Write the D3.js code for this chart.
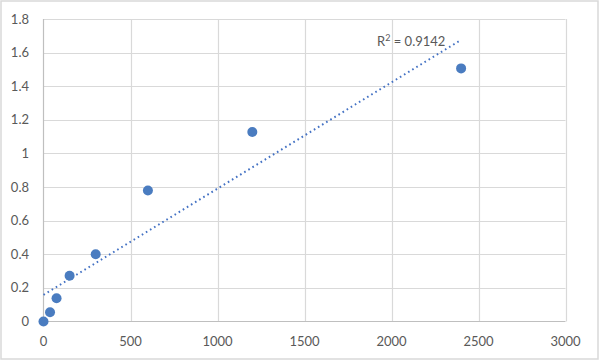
<!DOCTYPE html>
<html><head><meta charset="utf-8">
<script src="https://cdn.jsdelivr.net/npm/d3@7"></script>
<style>body{margin:0;background:#fff}svg{display:block}</style>
</head><body>
<script>
const xValues = [0, 37.5, 75, 150, 300, 600, 1200, 2400];
const yValues = [0, 0.055, 0.138, 0.272, 0.40, 0.78, 1.128, 1.506];
const xTicks = [0, 500, 1000, 1500, 2000, 2500, 3000];
const yTicks = [0, 0.2, 0.4, 0.6, 0.8, 1, 1.2, 1.4, 1.6, 1.8];
const r2Label = "0.9142";

const W = 600, H = 361;
const svg = d3.select("body").append("svg").attr("width", W).attr("height", H);
svg.append("rect").attr("x", 1).attr("y", 1).attr("width", W - 3).attr("height", H - 3)
  .attr("fill", "#fff").attr("stroke", "#d9d9d9").attr("stroke-width", 1.5);

const x = d3.scaleLinear().domain([0, 3000]).range([43.5, 565.5]);
const y = d3.scaleLinear().domain([0, 1.8]).range([321.5, 19]);
const font = "Lato, 'Open Sans', sans-serif";

// gridlines
svg.append("g").selectAll("line").data(yTicks.slice(1)).join("line")
  .attr("x1", x(0)).attr("x2", x(3000)).attr("y1", d => Math.round(y(d)) + 0.5).attr("y2", d => Math.round(y(d)) + 0.5)
  .attr("stroke", "#d9d9d9").attr("stroke-width", 1.2);
svg.append("g").selectAll("line").data(xTicks.slice(1)).join("line")
  .attr("y1", y(0)).attr("y2", y(1.8)).attr("x1", d => Math.round(x(d)) + 0.5).attr("x2", d => Math.round(x(d)) + 0.5)
  .attr("stroke", "#d9d9d9").attr("stroke-width", 1.2);
// axes lines
svg.append("line").attr("x1", x(0)).attr("x2", x(0)).attr("y1", y(0)).attr("y2", y(1.8)).attr("stroke", "#bfbfbf").attr("stroke-width", 1.2);
svg.append("line").attr("x1", x(0)).attr("x2", x(3000)).attr("y1", y(0)).attr("y2", y(0)).attr("stroke", "#bfbfbf").attr("stroke-width", 1.2);

// tick labels
svg.append("g").selectAll("text").data(yTicks).join("text")
  .attr("x", 29).attr("y", d => y(d)).attr("dy", "0.35em").attr("text-anchor", "end")
  .attr("font-family", font).attr("font-size", 13).attr("fill", "#595959")
  .text(d => d3.format("~g")(d));
svg.append("g").selectAll("text").data(xTicks).join("text")
  .attr("x", d => x(d)).attr("y", 341).attr("dy", "0.35em").attr("text-anchor", "middle")
  .attr("font-family", font).attr("font-size", 13).attr("fill", "#595959")
  .text(d => d);

// linear regression trendline
const n = xValues.length;
const mx = d3.mean(xValues), my = d3.mean(yValues);
let sxy = 0, sxx = 0;
for (let i = 0; i < n; i++) { sxy += (xValues[i] - mx) * (yValues[i] - my); sxx += (xValues[i] - mx) ** 2; }
const slope = sxy / sxx, icpt = my - slope * mx;
const xmax = d3.max(xValues);
svg.append("line")
  .attr("x1", x(0)).attr("y1", y(icpt)).attr("x2", x(xmax)).attr("y2", y(icpt + slope * xmax))
  .attr("stroke", "#4472c4").attr("stroke-width", 2).attr("stroke-dasharray", "1.6,3.2");

// points
svg.append("g").selectAll("circle").data(xValues.map((v, i) => [v, yValues[i]])).join("circle")
  .attr("cx", d => x(d[0])).attr("cy", d => y(d[1])).attr("r", 5).attr("fill", "#4a7cc0");

// R² label
const t = svg.append("text").attr("x", 377).attr("y", 46).attr("font-family", font).attr("font-size", 13).attr("fill", "#595959");
t.append("tspan").text("R");
t.append("tspan").attr("dy", -5).attr("font-size", 9).text("2");
t.append("tspan").attr("dy", 5).text(" = " + r2Label);
</script>
</body></html>
